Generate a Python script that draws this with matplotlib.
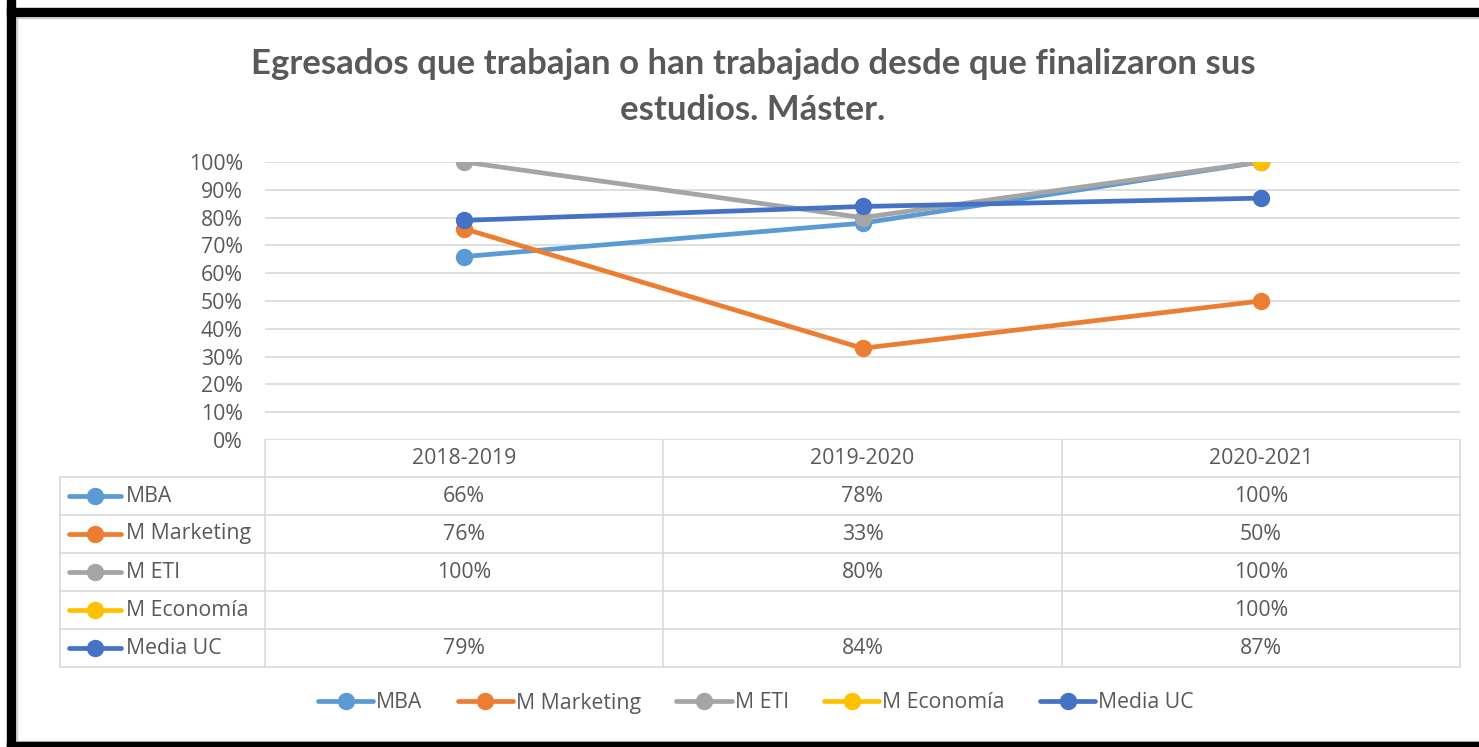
import numpy as np
import matplotlib
matplotlib.use("Agg")
import matplotlib.pyplot as plt
import matplotlib.transforms as mtransforms
from matplotlib.lines import Line2D
from matplotlib.patches import Rectangle

plt.rcParams['font.family'] = ['Open Sans', 'DejaVu Sans']

# ---- data ----
categories = ["2018-2019", "2019-2020", "2020-2021"]
series_names = ["MBA", "M Marketing", "M ETI", "M Economía", "Media UC"]
mba = [0.66, 0.78, 1.00]
marketing = [0.76, 0.33, 0.50]
eti = [1.00, 0.80, 1.00]
economia = [np.nan, np.nan, 1.00]
media_uc = [0.79, 0.84, 0.87]
series_values = [mba, marketing, eti, economia, media_uc]
colors = ["#5B9BD5", "#ED7D31", "#A5A5A5", "#FFC000", "#4472C4"]
yticks = [0.0, 0.1, 0.2, 0.3, 0.4, 0.5, 0.6, 0.7, 0.8, 0.9, 1.0]
title = "Egresados que trabajan o han trabajado desde que finalizaron sus\nestudios. Máster."

W, H = 1479, 747
TXT = "#595959"
GRID = "#D9D9D9"
FS = 15.3
LW = 3.4
MS = 11.5

def fx(px):
    return px / W

def fy(py):
    return 1 - py / H

fig = plt.figure(figsize=(W / 100, H / 100), dpi=100)

# border (black frame, cropped on right) with thin inner gray edge
fig.patches.append(Rectangle((fx(7), 0), fx(8), 1, transform=fig.transFigure,
                             color="black", zorder=10))
fig.patches.append(Rectangle((fx(7), fy(16)), 1, 8 / H, transform=fig.transFigure,
                             color="black", zorder=10))
fig.patches.append(Rectangle((fx(7), 0), 1, 5 / H, transform=fig.transFigure,
                             color="black", zorder=10))
fig.add_artist(Line2D([fx(16.5), fx(16.5)], [fy(741), fy(17)], color="#D0D0D0", lw=1,
                      transform=fig.transFigure))
fig.add_artist(Line2D([fx(16.5), 1], [fy(17.5), fy(17.5)], color="#D0D0D0", lw=1,
                      transform=fig.transFigure))
fig.add_artist(Line2D([fx(16.5), 1], [fy(740.5), fy(740.5)], color="#D0D0D0", lw=1,
                      transform=fig.transFigure))

ax = fig.add_axes([fx(265), fy(440), fx(1460) - fx(265), fy(162) - fy(440)])
x = np.arange(len(categories))
handles = []
for name, vals, c in zip(series_names, series_values, colors):
    h, = ax.plot(x, vals, color=c, lw=LW, marker="o", ms=MS, label=name,
                 solid_capstyle="round")
    handles.append(h)

ax.set_xlim(-0.5, len(categories) - 0.5)
ax.set_ylim(0, 1)
ax.set_yticks(yticks)
ax.set_yticklabels([f"{int(round(t * 100))}%" for t in yticks], color=TXT, fontsize=FS)
ax.tick_params(axis="y", length=0, pad=16)
ax.set_xticks([])
for s in ax.spines.values():
    s.set_visible(False)
ax.grid(axis="y", color=GRID, lw=1.2)
ax.set_axisbelow(True)

fig.text(fx(753), fy(87), title, ha="center", va="center", fontsize=25,
         fontweight="bold", color=TXT, linespacing=1.5, family=["Lato", "DejaVu Sans"])

# ---- data table ----
bt = mtransforms.blended_transform_factory(ax.transData, fig.transFigure)
row_edges = [440, 477, 515, 553, 591, 629, 667]
col_px = [265, 663, 1062, 1460]
lw_t = 1.2
for cx in col_px:
    fig.add_artist(Line2D([fx(cx), fx(cx)], [fy(440), fy(667)], color=GRID, lw=lw_t,
                          transform=fig.transFigure))
fig.add_artist(Line2D([fx(60), fx(60)], [fy(477), fy(667)], color=GRID, lw=lw_t,
                      transform=fig.transFigure))
for ry in row_edges[1:]:
    fig.add_artist(Line2D([fx(60), fx(1460)], [fy(ry), fy(ry)], color=GRID, lw=lw_t,
                          transform=fig.transFigure))
for i, cat in enumerate(categories):
    ax.text(i, fy(459), cat, transform=bt, ha="center", va="center",
            fontsize=FS, color=TXT)
for r, (name, vals, c) in enumerate(zip(series_names, series_values, colors)):
    yc = fy((row_edges[r + 1] + row_edges[r + 2]) / 2)
    fig.add_artist(Line2D([fx(69), fx(121)], [yc, yc], color=c, lw=LW,
                          solid_capstyle="round", transform=fig.transFigure))
    fig.add_artist(Line2D([fx(95)], [yc], color=c, marker="o", ms=MS,
                          transform=fig.transFigure))
    fig.text(fx(126), yc, name, ha="left", va="center", fontsize=FS, color=TXT)
    for i, v in enumerate(vals):
        if not np.isnan(v):
            ax.text(i, yc, f"{int(round(v * 100))}%", transform=bt, ha="center",
                    va="center", fontsize=FS, color=TXT)

fig.legend(handles=handles, labels=series_names, loc="center",
           bbox_to_anchor=(fx(756), fy(703)), ncol=5, frameon=False, fontsize=FS,
           labelcolor=TXT, handlelength=2.6, handletextpad=0.15, columnspacing=1.65)

fig.savefig("out.png", dpi=100, facecolor="white")
